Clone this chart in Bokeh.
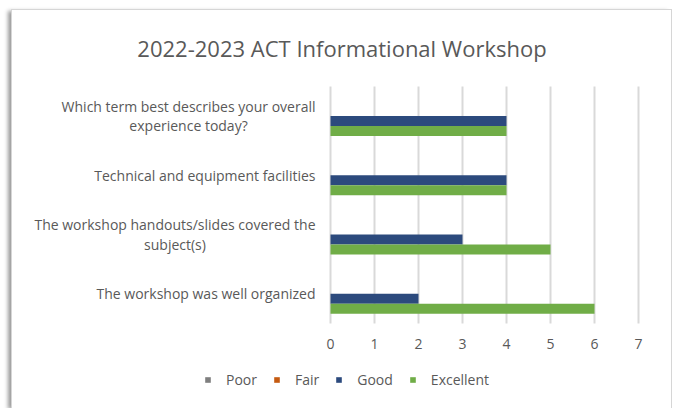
from bokeh.plotting import figure
from bokeh.models import ColumnDataSource, FactorRange, Legend, LegendItem, Label
from bokeh.core.properties import value
from bokeh.transform import dodge
from bokeh.embed import file_html
from bokeh.resources import INLINE

# ---- data (categories listed bottom -> top) ----
categories = [
    "The workshop was well organized",
    "The workshop handouts/slides covered the\nsubject(s)",
    "Technical and equipment facilities",
    "Which term best describes your overall\nexperience today?",
]
series = ["Poor", "Fair", "Good", "Excellent"]
poor = [0, 0, 0, 0]
fair = [0, 0, 0, 0]
good = [2, 3, 4, 4]
excellent = [6, 5, 4, 4]
x_ticks = [0, 1, 2, 3, 4, 5, 6, 7]
title_text = "2022-2023 ACT Informational Workshop"

colors = ["#7F7F7F", "#C55A11", "#2C4A7D", "#70AD47"]

FONT = "Open Sans"
TXT = "#595959"

# ---- geometry (pixels) ----
W, H = 659, 398
BOTTOM_BORDER = 9
FRAME_H = H - BOTTOM_BORDER
ZERO_PX = 318            # where value 0 sits, from figure left
PX_PER_UNIT = 44
PLOT_H = 237             # height of the category area

source = ColumnDataSource(dict(cat=categories, Poor=poor, Fair=fair, Good=good, Excellent=excellent))
grid_src = ColumnDataSource(dict(x=x_ticks, y0=[categories[0]] * len(x_ticks),
                                 y1=[categories[-1]] * len(x_ticks),
                                 lab=[str(t) for t in x_ticks]))

p = figure(
    width=W, height=H,
    y_range=FactorRange(*categories, range_padding=FRAME_H / PLOT_H - 1),
    x_range=(-ZERO_PX / PX_PER_UNIT, (W - ZERO_PX) / PX_PER_UNIT),
    output_backend="svg", toolbar_location=None,
    x_axis_location=None, y_axis_location=None, title_location=None,
    min_border_left=0, min_border_right=0, min_border_top=0, min_border_bottom=BOTTOM_BORDER,
)
p.margin = (10, 0, 0, 12)
p.styles = {"box-shadow": "0 0 0 1px #d6d6d6, -4px 1px 4px rgba(0,0,0,0.4)"}
for g in p.grid:
    g.visible = False
p.outline_line_color = None
p.background_fill_color = "white"
p.border_fill_color = "white"

# vertical gridlines at the value ticks, spanning the category area
p.segment(x0="x", x1="x", y0=dodge("y0", -0.5, range=p.y_range), y1=dodge("y1", 0.5, range=p.y_range),
          source=grid_src, line_color="#D9D9D9", line_width=2)

# value tick labels
p.text(x="x", y=dodge("y0", -0.5, range=p.y_range), text="lab", source=grid_src, y_offset=20,
       text_align="center", text_baseline="middle",
       text_font=value(FONT), text_font_size="14px", text_color=TXT)

bar_h = 0.169
offsets = [0.253, 0.084, -0.084, -0.253]
renderers = []
for s, c, off in zip(series, colors, offsets):
    r = p.hbar(y=dodge("cat", off, range=p.y_range), right=s, left=0, height=bar_h,
               source=source, fill_color=c, line_color=None)
    renderers.append(r)

# category labels (right-anchored block, lines centered)
p.text(x=0, y="cat", text="cat", source=source, x_offset=-15,
       anchor="center_right", text_align="center", text_baseline="middle",
       text_font=value(FONT), text_font_size="14px", text_color=TXT, text_line_height=1.02)

# title
p.add_layout(Label(x=W / 2, y=FRAME_H - 37, x_units="screen", y_units="screen", text=title_text,
                   text_align="center", text_baseline="middle", text_font=FONT,
                   text_font_size="22px", text_color=TXT))

legend = Legend(items=[LegendItem(label=s, renderers=[r]) for s, r in zip(series, renderers)],
                orientation="horizontal", location=(192, 10))
legend.glyph_width = 7
legend.glyph_height = 7
legend.label_standoff = 15
legend.spacing = 16
legend.padding = 0
legend.margin = 0
legend.border_line_color = None
legend.background_fill_alpha = 0
legend.label_text_font = FONT
legend.label_text_font_size = "14px"
legend.label_text_color = TXT
p.add_layout(legend, "center")

open("out.html", "w").write(file_html(p, INLINE))
